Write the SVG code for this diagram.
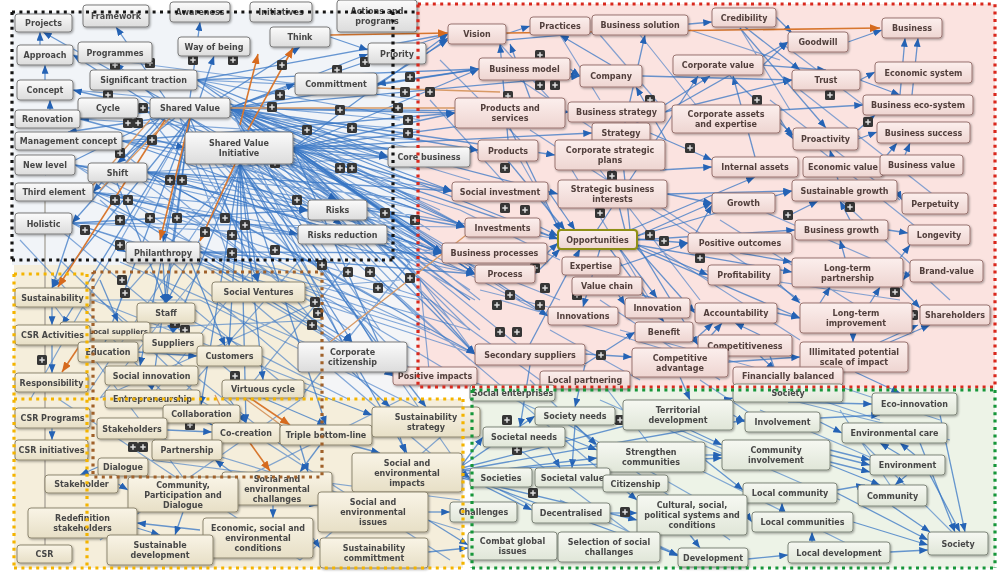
<svg xmlns="http://www.w3.org/2000/svg" xmlns:xlink="http://www.w3.org/1999/xlink" width="1000" height="573" viewBox="0 0 1000 573">
<defs>
<style>
.n text{font-family:"DejaVu Sans",Verdana,sans-serif;font-size:8px;font-weight:bold;text-anchor:middle;fill:#474747}
.n rect{rx:3px;ry:3px;stroke-width:1}
.n{filter:url(#sh)}
.tl rect{fill:url(#gTL);stroke:#7b7b7b}
.rd rect{fill:url(#gRD);stroke:#9a7571}
.rd text{fill:#52403d}
.cr rect{fill:url(#gCR);stroke:#8e8770}
.gr rect{fill:url(#gGR);stroke:#7f867a}
#opp rect{stroke:#8f8f12;stroke-width:2}
#n-localsuppliers text{font-size:7px;text-anchor:end}
#edges path{fill:none}
.b{stroke:#3775c4;stroke-opacity:.75;stroke-width:1.3;marker-end:url(#ab)}
.b0{stroke:#3775c4;stroke-opacity:.6;stroke-width:1.2}
.o{stroke:#d8772f;stroke-width:1.6;marker-end:url(#ao)}
.o0{stroke:#d89a66;stroke-width:1.3}
.g0{stroke:#a09a90;stroke-width:1.2}
.frame path{fill:none;stroke-width:3.2;stroke-dasharray:3 4.4}
.dk{stroke:#141414}
.rdf{stroke:#d9281d}
.yl{stroke:#f4b400}
.br{stroke:#a0612a;stroke-width:2.8}
.gn{stroke:#17963a}
</style>
<linearGradient id="gTL" x1="0" y1="0" x2="0" y2="1"><stop offset="0" stop-color="#fbfbfb"/><stop offset="1" stop-color="#dcdcdc"/></linearGradient>
<linearGradient id="gRD" x1="0" y1="0" x2="0" y2="1"><stop offset="0" stop-color="#fcefed"/><stop offset="1" stop-color="#eed5d1"/></linearGradient>
<linearGradient id="gCR" x1="0" y1="0" x2="0" y2="1"><stop offset="0" stop-color="#f9f4e6"/><stop offset="1" stop-color="#e7dfc6"/></linearGradient>
<linearGradient id="gGR" x1="0" y1="0" x2="0" y2="1"><stop offset="0" stop-color="#f6f8f2"/><stop offset="1" stop-color="#e0e6d8"/></linearGradient>
<filter id="sh" x="-10%" y="-20%" width="125%" height="150%"><feDropShadow dx="1" dy="1.2" stdDeviation="0.8" flood-color="#000" flood-opacity="0.35"/></filter>
<marker id="ab" viewBox="0 0 10 8" refX="10" refY="4" markerWidth="9" markerHeight="7" markerUnits="userSpaceOnUse" orient="auto"><path d="M0,0L10,4L0,8z" fill="#2563b5"/></marker>
<marker id="ao" viewBox="0 0 10 8" refX="10" refY="4" markerWidth="10" markerHeight="8" markerUnits="userSpaceOnUse" orient="auto"><path d="M0,0L10,4L0,8z" fill="#d66a1e"/></marker>
<symbol id="pl" viewBox="0 0 10 10"><rect width="10" height="10" rx="1.5" fill="#363636"/><path d="M5,2.3V7.7M2.3,5H7.7" stroke="#e0e0e0" stroke-width="1.5"/></symbol>
</defs>

<g id="background">
<rect width="1000" height="573" fill="#ffffff"/>
<rect x="12" y="12" width="406" height="253" fill="#f1f4f8"/>
<rect x="418" y="4" width="577" height="383" fill="#fbe3e0"/>
<rect x="472" y="387" width="523" height="181" fill="#edf3e7"/>
<rect x="14" y="265" width="308" height="134" fill="#f5eedb"/>
<rect x="322" y="265" width="96" height="134" fill="#f4f5f7"/>
<rect x="14" y="399" width="449" height="169" fill="#f5eedb"/>
</g>

<g id="edges">
<path class="g0" d="M45,200V545"/>
<path class="b0" d="M72,223L475,354M72,223L465,227M93,192L442,253M93,192L475,274M122,141L478,150M122,141L452,191M75,165L393,376M75,165L475,354M147,172L388,157M147,172L558,239M163,242L393,376M138,108L442,253M197,80L465,227M197,85L475,274M230,112L530,355M240,164L475,300M260,164L548,316M180,118L420,380M150,118L330,342M120,150L300,300M100,200L300,372M200,252L430,330M240,164L600,470M250,164L462,470M290,164L470,300M300,160L470,330M230,108L420,200M230,108L430,230M230,108L420,260M230,108L470,180M240,164L420,240M260,160L420,210M280,160L440,270M60,230L240,380M90,200L330,300M140,180L350,330M20,240L170,400M50,300L200,500M100,300L300,460M150,300L350,400M200,300L463,430M250,300L462,480M330,300L480,390M380,280L470,360M430,300L540,380M470,380L560,420M530,380L600,450M600,380L650,445M700,380L760,420M760,380L880,420M820,380L940,420M430,100L520,200M440,60L520,140M500,44L560,110M560,35L600,100M600,35L660,105M640,35L700,110M690,30L780,60M740,28L790,110M780,42L870,110M520,80L640,160M530,130L700,240M560,150L650,300M520,160L560,230M600,170L700,300M650,200L800,300M660,250L800,340M700,270L900,300M720,220L880,320M760,210L920,280M770,100L900,200M800,90L940,200M820,150L920,230M830,190L950,300M600,300L720,380M620,330L800,380M550,330L640,380M500,300L700,360M480,290L560,310M460,260L560,300M460,210L560,260M600,400L760,470M560,420L700,500M520,450L640,540M500,490L560,520M680,430L840,500M700,470L860,550M760,410L900,470M790,400L950,440M840,410L900,500M860,440L960,540M620,460L730,540M560,500L690,560"/>
<path class="b0" d="M230,108L420,150M230,110L420,170M230,112L420,190M230,114L440,210M230,116L430,250M232,118L410,262M235,118L400,290M235,118L380,330M235,118L360,380M240,120L470,300M240,120L480,330M245,118L520,300M293,152L420,160M293,155L470,260M293,158L460,210M293,160L420,280M293,160L450,320M147,172L420,230M147,172L430,260M147,172L380,300M93,192L400,220M93,192L430,300M72,223L400,240M72,223L420,330M200,252L420,300M200,252L470,330M367,210L460,260M367,210L480,300M387,234L470,290M387,234L475,354M75,165L420,200M75,165L440,250M122,141L400,180M122,141L420,210M80,119L420,140M73,90L400,120M73,55L420,100M138,108L420,130M197,80L420,90M197,80L420,120M150,112L390,240M160,118L360,260M250,148L420,320M270,164L380,262M230,164L330,262M215,164L300,262M200,164L260,262M180,118L230,262M93,300L322,390M150,272L300,398M200,272L100,398M250,272L150,398M322,300L100,398M60,400L300,560M100,420L460,530M150,460L460,500M200,400L450,560M300,400L100,540M400,400L200,500M460,420L300,560M240,164L120,300M240,164L90,390M190,118L30,400M300,260L180,398M350,262L240,398M410,262L300,398M420,280L430,380M270,290L400,280M100,330L322,320M60,260L200,398M120,262L322,350M30,300L200,300"/>
<path class="b" d="M230,108L368,54"/><path class="b" d="M230,108L448,34"/><path class="b" d="M230,108L479,69"/><path class="b" d="M230,108L455,113"/><path class="b" d="M230,108L388,157"/><path class="b" d="M230,108L478,150"/><path class="b" d="M230,108L452,191"/><path class="b" d="M230,108L465,227"/><path class="b" d="M230,108L442,253"/><path class="b" d="M230,108L475,274"/><path class="b" d="M230,108L558,239"/><path class="b" d="M230,108L558,194"/><path class="b" d="M230,108L555,155"/><path class="b" d="M230,108L568,112"/><path class="b" d="M230,108L580,76"/><path class="b" d="M230,108L295,84"/><path class="b" d="M230,108L393,376"/><path class="b" d="M230,108L475,354"/>
<path class="b" d="M293,148L448,34"/><path class="b" d="M293,148L479,69"/><path class="b" d="M293,148L455,113"/><path class="b" d="M293,148L388,157"/><path class="b" d="M293,148L478,150"/><path class="b" d="M293,148L452,191"/><path class="b" d="M293,148L465,227"/><path class="b" d="M293,148L442,253"/><path class="b" d="M293,148L475,274"/><path class="b" d="M293,148L558,239"/><path class="b" d="M293,148L548,316"/><path class="b" d="M293,148L475,354"/><path class="b" d="M293,148L393,376"/><path class="b" d="M293,148L568,112"/><path class="b" d="M293,148L592,133"/>
<path class="b" d="M240,164L352,342"/><path class="b" d="M240,164L426,407"/><path class="b" d="M240,164L407,453"/><path class="b" d="M240,164L326,425"/><path class="b" d="M240,164L263,380"/><path class="b" d="M240,164L258,282"/><path class="b" d="M240,164L229,346"/><path class="b" d="M240,164L166,303"/><path class="b" d="M240,164L173,333"/><path class="b" d="M240,164L246,423"/><path class="b" d="M240,164L201,405"/>
<path class="b" d="M190,118L166,303"/><path class="b" d="M190,118L140,366"/><path class="b" d="M190,118L52,288"/><path class="b" d="M190,118L163,242"/><path class="b" d="M190,118L337,200"/><path class="b" d="M190,118L342,225"/><path class="b" d="M190,118L258,282"/><path class="b" d="M190,118L152,390"/><path class="b" d="M190,118L105,342"/><path class="b" d="M190,118L62,325"/>
<path class="b" d="M160,98L43,32"/><path class="b" d="M165,98L116,27"/><path class="b" d="M190,98L200,22"/><path class="b" d="M150,104L73,55"/><path class="b" d="M155,98L115,63"/><path class="b" d="M150,108L73,90"/><path class="b" d="M150,112L80,119"/><path class="b" d="M160,118L68,132"/><path class="b" d="M160,118L45,175"/><path class="b" d="M160,118L93,192"/><path class="b" d="M165,118L72,223"/><path class="b" d="M175,118L117,163"/><path class="b" d="M200,98L214,56"/><path class="b" d="M220,98L300,47"/>
<path class="b" d="M40,45L40,32"/><path class="b" d="M45,80L45,65"/><path class="b" d="M50,110L50,100"/>
<path class="b" d="M197,80L448,34"/><path class="b" d="M197,80L479,69"/><path class="b" d="M197,80L388,157"/><path class="b" d="M197,80L442,253"/><path class="b" d="M138,108L465,227"/><path class="b" d="M122,141L442,253"/><path class="b" d="M122,141L455,113"/><path class="b" d="M147,172L452,191"/><path class="b" d="M147,172L475,274"/><path class="b" d="M147,172L475,354"/><path class="b" d="M75,165L308,210"/><path class="b" d="M93,192L298,234"/><path class="b" d="M93,192L393,376"/><path class="b" d="M72,223L126,252"/><path class="b" d="M72,223L308,210"/><path class="b" d="M80,119L185,148"/><path class="b" d="M117,183L166,303"/><path class="b" d="M72,228L52,288"/><path class="b" d="M163,263L166,303"/><path class="b" d="M200,252L352,342"/><path class="b" d="M200,252L475,274"/><path class="b" d="M200,252L442,253"/><path class="b" d="M367,210L465,227"/><path class="b" d="M387,234L442,253"/><path class="b" d="M377,84L448,40"/><path class="b" d="M426,54L448,38"/><path class="b" d="M479,69L377,84"/><path class="b" d="M330,37L368,50"/>
<path class="b" d="M506,34L530,26"/><path class="b" d="M570,69L580,76"/><path class="b" d="M611,65L560,35"/><path class="b" d="M612,180L645,35"/><path class="b" d="M597,230L698,76"/><path class="b" d="M610,140L710,76"/><path class="b" d="M755,157L733,76"/><path class="b" d="M763,65L788,42"/><path class="b" d="M776,17L792,33"/><path class="b" d="M848,42L882,30"/><path class="b" d="M860,80L875,72"/><path class="b" d="M900,95L905,38"/><path class="b" d="M912,95L918,38"/><path class="b" d="M780,119L793,139"/><path class="b" d="M858,139L877,132"/><path class="b" d="M883,160L897,143"/><path class="b" d="M905,155L910,143"/><path class="b" d="M642,76L792,80"/><path class="b" d="M665,112L792,80"/><path class="b" d="M665,112L788,42"/><path class="b" d="M760,65L826,70"/><path class="b" d="M745,27L800,70"/><path class="b" d="M740,28L826,128"/><path class="b" d="M780,110L863,105"/><path class="b" d="M858,130L875,115"/><path class="b" d="M860,80L900,95"/><path class="b" d="M730,76L793,135"/><path class="b" d="M506,40L712,22"/><path class="b" d="M508,140L500,44"/><path class="b" d="M530,98L510,44"/><path class="b" d="M666,140L636,87"/>
<path class="b" d="M540,227L558,236"/><path class="b" d="M547,253L558,243"/><path class="b" d="M535,274L560,249"/><path class="b" d="M510,128L560,231"/><path class="b" d="M508,161L565,230"/><path class="b" d="M548,191L575,230"/><path class="b" d="M530,344L580,249"/><path class="b" d="M637,239L688,243"/><path class="b" d="M637,236L712,203"/><path class="b" d="M630,230L755,177"/><path class="b" d="M625,230L610,170"/><path class="b" d="M630,230L621,143"/><path class="b" d="M637,245L708,275"/><path class="b" d="M637,248L695,313"/><path class="b" d="M620,249L657,298"/><path class="b" d="M600,249L583,307"/><path class="b" d="M610,249L664,322"/><path class="b" d="M637,245L792,272"/><path class="b" d="M637,236L792,191"/><path class="b" d="M637,240L795,230"/><path class="b" d="M637,248L800,318"/><path class="b" d="M637,244L698,345"/>
<path class="b" d="M690,243L712,205"/><path class="b" d="M790,215L818,201"/><path class="b" d="M897,191L902,200"/><path class="b" d="M888,230L908,233"/><path class="b" d="M910,271L903,280"/><path class="b" d="M740,253L792,262"/><path class="b" d="M780,285L800,303"/><path class="b" d="M900,287L920,308"/><path class="b" d="M880,342L918,325"/><path class="b" d="M890,342L930,325"/><path class="b" d="M853,333L853,342"/><path class="b" d="M760,356L775,370"/><path class="b" d="M692,342L713,323"/><path class="b" d="M700,348L722,323"/><path class="b" d="M760,335L735,323"/><path class="b" d="M850,220L840,201"/><path class="b" d="M845,258L840,240"/><path class="b" d="M900,258L910,245"/><path class="b" d="M820,303L830,287"/><path class="b" d="M870,303L880,287"/><path class="b" d="M838,180L830,150"/><path class="b" d="M660,170L712,167"/><path class="b" d="M667,194L712,203"/><path class="b" d="M667,194L792,191"/><path class="b" d="M650,133L712,160"/><path class="b" d="M642,295L695,310"/><path class="b" d="M620,266L688,243"/><path class="b" d="M607,277L625,305"/><path class="b" d="M585,364L635,332"/><path class="b" d="M585,354L632,357"/><path class="b" d="M728,362L800,357"/><path class="b" d="M777,313L800,318"/>
<path class="b" d="M788,402L872,404"/><path class="b" d="M820,422L842,433"/><path class="b" d="M820,418L880,415"/><path class="b" d="M830,450L870,460"/><path class="b" d="M830,455L870,465"/><path class="b" d="M830,462L870,472"/><path class="b" d="M900,455L880,443"/><path class="b" d="M915,455L900,443"/><path class="b" d="M837,490L865,485"/><path class="b" d="M830,465L880,485"/><path class="b" d="M907,475L895,485"/><path class="b" d="M837,493L928,540"/><path class="b" d="M853,522L928,545"/><path class="b" d="M890,552L928,550"/><path class="b" d="M892,506L930,532"/><path class="b" d="M920,443L955,532"/><path class="b" d="M940,415L965,532"/><path class="b" d="M930,475L960,532"/><path class="b" d="M782,512L782,503"/><path class="b" d="M812,542L812,532"/><path class="b" d="M705,455L722,455"/><path class="b" d="M733,415L745,422"/><path class="b" d="M705,460L743,490"/><path class="b" d="M747,515L752,522"/><path class="b" d="M565,437L597,450"/><path class="b" d="M575,425L597,445"/><path class="b" d="M548,447L560,468"/><path class="b" d="M575,425L572,468"/><path class="b" d="M610,478L637,500"/><path class="b" d="M610,513L637,513"/><path class="b" d="M462,472L470,478"/><path class="b" d="M462,475L532,510"/><path class="b" d="M462,478L637,520"/><path class="b" d="M462,476L678,555"/><path class="b" d="M462,474L597,458"/><path class="b" d="M462,471L722,458"/><path class="b" d="M462,470L745,420"/><path class="b" d="M462,468L733,398"/><path class="b" d="M462,466L535,416"/><path class="b" d="M462,465L483,437"/><path class="b" d="M428,512L450,512"/><path class="b" d="M428,520L468,545"/><path class="b" d="M428,552L468,548"/><path class="b" d="M660,547L678,556"/><path class="b" d="M748,559L788,555"/><path class="b" d="M690,430L722,445"/><path class="b" d="M690,535L700,548"/><path class="b" d="M680,377L690,400"/><path class="b" d="M585,365L575,407"/><path class="b" d="M530,365L520,427"/><path class="b" d="M855,372L900,393"/><path class="b" d="M770,356L780,384"/>
<path class="b" d="M100,280L118,322"/><path class="b" d="M190,260L225,346"/><path class="b" d="M52,307L52,325"/><path class="b" d="M52,345L52,373"/><path class="b" d="M52,428L52,440"/><path class="b" d="M200,530L137,523"/><path class="b" d="M183,512L175,535"/><path class="b" d="M230,400L246,423"/><path class="b" d="M390,422L372,433"/><path class="b" d="M300,445L308,472"/><path class="b" d="M273,505L273,518"/><path class="b" d="M320,445L300,472"/><path class="b" d="M350,445L380,453"/><path class="b" d="M400,437L405,453"/><path class="b" d="M240,478L215,460"/><path class="b" d="M167,430L212,432"/><path class="b" d="M200,415L212,425"/><path class="b" d="M263,398L326,425"/><path class="b" d="M304,389L372,415"/><path class="b" d="M352,372L390,407"/><path class="b" d="M120,460L120,475"/><path class="b" d="M98,467L80,475"/><path class="b" d="M118,484L128,490"/><path class="b" d="M137,528L160,535"/><path class="b" d="M238,495L318,505"/><path class="b" d="M313,538L320,548"/><path class="b" d="M170,323L173,333"/><path class="b" d="M138,352L197,356"/><path class="b" d="M150,385L152,390"/>
<path class="o" d="M506,33L880,28"/><path class="o" d="M330,35L448,33"/><path class="o" d="M248,130L293,48"/><path class="o" d="M240,125L258,54"/><path class="o" d="M165,120L58,287"/><path class="o" d="M190,118L160,240"/><path class="o" d="M235,164L200,241"/><path class="o" d="M232,386L290,425"/><path class="o" d="M250,443L270,471"/><path class="o" d="M80,345L62,372"/>
<path class="o0" d="M150,120L80,200M170,118L100,190M230,108L455,108M330,342L470,232M377,88L500,92M240,395L285,428M215,395L232,430"/>
</g>

<g id="icons">
<use href="#pl" x="110" y="60" width="10" height="10"/><use href="#pl" x="145" y="58" width="10" height="10"/><use href="#pl" x="188" y="55" width="10" height="10"/><use href="#pl" x="228" y="55" width="10" height="10"/><use href="#pl" x="103" y="90" width="10" height="10"/><use href="#pl" x="138" y="103" width="10" height="10"/><use href="#pl" x="123" y="118" width="10" height="10"/><use href="#pl" x="133" y="118" width="10" height="10"/><use href="#pl" x="147" y="135" width="10" height="10"/><use href="#pl" x="115" y="148" width="10" height="10"/><use href="#pl" x="165" y="175" width="10" height="10"/><use href="#pl" x="177" y="175" width="10" height="10"/><use href="#pl" x="277" y="60" width="10" height="10"/><use href="#pl" x="332" y="65" width="10" height="10"/><use href="#pl" x="360" y="57" width="10" height="10"/><use href="#pl" x="275" y="90" width="10" height="10"/><use href="#pl" x="267" y="102" width="10" height="10"/><use href="#pl" x="335" y="105" width="10" height="10"/><use href="#pl" x="347" y="123" width="10" height="10"/><use href="#pl" x="302" y="125" width="10" height="10"/><use href="#pl" x="405" y="72" width="10" height="10"/><use href="#pl" x="400" y="87" width="10" height="10"/><use href="#pl" x="425" y="87" width="10" height="10"/><use href="#pl" x="393" y="103" width="10" height="10"/><use href="#pl" x="403" y="115" width="10" height="10"/><use href="#pl" x="403" y="128" width="10" height="10"/><use href="#pl" x="270" y="158" width="10" height="10"/><use href="#pl" x="335" y="163" width="10" height="10"/><use href="#pl" x="347" y="163" width="10" height="10"/>
<use href="#pl" x="110" y="195" width="10" height="10"/><use href="#pl" x="123" y="195" width="10" height="10"/><use href="#pl" x="115" y="215" width="10" height="10"/><use href="#pl" x="80" y="225" width="10" height="10"/><use href="#pl" x="172" y="213" width="10" height="10"/><use href="#pl" x="145" y="213" width="10" height="10"/><use href="#pl" x="220" y="213" width="10" height="10"/><use href="#pl" x="200" y="227" width="10" height="10"/><use href="#pl" x="227" y="230" width="10" height="10"/><use href="#pl" x="115" y="240" width="10" height="10"/><use href="#pl" x="227" y="248" width="10" height="10"/><use href="#pl" x="292" y="195" width="10" height="10"/><use href="#pl" x="240" y="220" width="10" height="10"/><use href="#pl" x="270" y="245" width="10" height="10"/><use href="#pl" x="380" y="208" width="10" height="10"/><use href="#pl" x="410" y="215" width="10" height="10"/><use href="#pl" x="317" y="260" width="10" height="10"/><use href="#pl" x="343" y="267" width="10" height="10"/><use href="#pl" x="365" y="267" width="10" height="10"/><use href="#pl" x="405" y="273" width="10" height="10"/><use href="#pl" x="373" y="283" width="10" height="10"/><use href="#pl" x="310" y="297" width="10" height="10"/><use href="#pl" x="313" y="308" width="10" height="10"/><use href="#pl" x="307" y="320" width="10" height="10"/><use href="#pl" x="180" y="325" width="10" height="10"/><use href="#pl" x="170" y="318" width="10" height="10"/><use href="#pl" x="37" y="355" width="10" height="10"/><use href="#pl" x="117" y="275" width="10" height="10"/>
<use href="#pl" x="535" y="50" width="10" height="10"/><use href="#pl" x="535" y="80" width="10" height="10"/><use href="#pl" x="550" y="80" width="10" height="10"/><use href="#pl" x="503" y="91" width="10" height="10"/><use href="#pl" x="645" y="95" width="10" height="10"/><use href="#pl" x="685" y="143" width="10" height="10"/><use href="#pl" x="607" y="171" width="10" height="10"/><use href="#pl" x="500" y="163" width="10" height="10"/><use href="#pl" x="825" y="90" width="10" height="10"/><use href="#pl" x="752" y="95" width="10" height="10"/><use href="#pl" x="863" y="117" width="10" height="10"/><use href="#pl" x="783" y="210" width="10" height="10"/><use href="#pl" x="845" y="202" width="10" height="10"/><use href="#pl" x="890" y="287" width="10" height="10"/><use href="#pl" x="908" y="310" width="10" height="10"/><use href="#pl" x="500" y="203" width="10" height="10"/><use href="#pl" x="520" y="205" width="10" height="10"/><use href="#pl" x="595" y="208" width="10" height="10"/><use href="#pl" x="645" y="230" width="10" height="10"/><use href="#pl" x="659" y="236" width="10" height="10"/><use href="#pl" x="695" y="253" width="10" height="10"/><use href="#pl" x="530" y="263" width="10" height="10"/><use href="#pl" x="540" y="283" width="10" height="10"/><use href="#pl" x="505" y="290" width="10" height="10"/><use href="#pl" x="492" y="300" width="10" height="10"/><use href="#pl" x="535" y="300" width="10" height="10"/><use href="#pl" x="572" y="290" width="10" height="10"/><use href="#pl" x="495" y="327" width="10" height="10"/><use href="#pl" x="512" y="327" width="10" height="10"/><use href="#pl" x="596" y="350" width="10" height="10"/>
<use href="#pl" x="502" y="415" width="10" height="10"/><use href="#pl" x="512" y="445" width="10" height="10"/><use href="#pl" x="615" y="415" width="10" height="10"/><use href="#pl" x="528" y="488" width="10" height="10"/><use href="#pl" x="620" y="507" width="10" height="10"/><use href="#pl" x="365" y="477" width="10" height="10"/><use href="#pl" x="128" y="442" width="10" height="10"/><use href="#pl" x="138" y="442" width="10" height="10"/><use href="#pl" x="300" y="530" width="10" height="10"/><use href="#pl" x="230" y="371" width="10" height="10"/><use href="#pl" x="185" y="420" width="10" height="10"/><use href="#pl" x="120" y="288" width="10" height="10"/>
</g>

<g id="nodes">
<g id="n-projects" class="n tl"><rect x="15" y="14" width="57" height="18"/><text x="43.5" y="26">Projects</text></g>
<g id="n-framework" class="n tl"><rect x="83" y="5" width="66" height="22"/><text x="116" y="19">Framework</text></g>
<g id="n-awareness" class="n tl"><rect x="170" y="2" width="60" height="20"/><text x="200" y="15">Awareness</text></g>
<g id="n-initiatives" class="n tl"><rect x="250" y="2" width="62" height="20"/><text x="281" y="15">Initiatives</text></g>
<g id="n-actions" class="n tl"><rect x="337" y="0" width="80" height="32"/><text x="377" y="14">Actions and</text><text x="377" y="24">programs</text></g>
<g id="n-wayofbeing" class="n tl"><rect x="178" y="37" width="72" height="19"/><text x="214" y="49.5">Way of being</text></g>
<g id="n-think" class="n tl"><rect x="270" y="27" width="60" height="20"/><text x="300" y="40">Think</text></g>
<g id="n-priority" class="n tl"><rect x="368" y="43" width="58" height="21"/><text x="397" y="56.5">Priority</text></g>
<g id="n-approach" class="n tl"><rect x="17" y="45" width="56" height="20"/><text x="45" y="58">Approach</text></g>
<g id="n-programmes" class="n tl"><rect x="78" y="42" width="74" height="21"/><text x="115" y="55.5">Programmes</text></g>
<g id="n-sigtraction" class="n tl"><rect x="90" y="70" width="107" height="20"/><text x="143.5" y="83">Significant traction</text></g>
<g id="n-committment" class="n tl"><rect x="295" y="73" width="82" height="22"/><text x="336" y="87">Committment</text></g>
<g id="n-concept" class="n tl"><rect x="17" y="80" width="56" height="20"/><text x="45" y="93">Concept</text></g>
<g id="n-cycle" class="n tl"><rect x="78" y="98" width="60" height="20"/><text x="108" y="111">Cycle</text></g>
<g id="n-sharedvalue" class="n tl"><rect x="150" y="98" width="80" height="20"/><text x="190" y="111">Shared Value</text></g>
<g id="n-renovation" class="n tl"><rect x="15" y="110" width="65" height="18"/><text x="47.5" y="122">Renovation</text></g>
<g id="n-mgmt" class="n tl"><rect x="15" y="132" width="107" height="18"/><text x="68.5" y="144">Management concept</text></g>
<g id="n-svi" class="n tl"><rect x="185" y="132" width="108" height="32"/><text x="239" y="146">Shared Value</text><text x="239" y="156">Initiative</text></g>
<g id="n-newlevel" class="n tl"><rect x="15" y="155" width="60" height="20"/><text x="45" y="168">New level</text></g>
<g id="n-shift" class="n tl"><rect x="88" y="163" width="59" height="19"/><text x="117.5" y="175.5">Shift</text></g>
<g id="n-third" class="n tl"><rect x="15" y="183" width="78" height="18"/><text x="54" y="195">Third element</text></g>
<g id="n-holistic" class="n tl"><rect x="15" y="213" width="57" height="21"/><text x="43.5" y="226.5">Holistic</text></g>
<g id="n-philanthropy" class="n tl"><rect x="126" y="242" width="74" height="21"/><text x="163" y="255.5">Philanthropy</text></g>
<g id="n-risks" class="n tl"><rect x="308" y="200" width="59" height="20"/><text x="337.5" y="213">Risks</text></g>
<g id="n-risksred" class="n tl"><rect x="298" y="225" width="89" height="19"/><text x="342.5" y="237.5">Risks reduction</text></g>
<g id="n-corebusiness" class="n tl"><rect x="388" y="147" width="82" height="20"/><text x="429" y="160">Core business</text></g>

<g id="n-vision" class="n rd"><rect x="448" y="24" width="58" height="20"/><text x="477" y="37">Vision</text></g>
<g id="n-practices" class="n rd"><rect x="530" y="17" width="60" height="18"/><text x="560" y="29">Practices</text></g>
<g id="n-bsolution" class="n rd"><rect x="592" y="15" width="96" height="20"/><text x="640" y="28">Business solution</text></g>
<g id="n-credibility" class="n rd"><rect x="712" y="8" width="64" height="19"/><text x="744" y="20.5">Credibility</text></g>
<g id="n-business" class="n rd"><rect x="882" y="18" width="60" height="20"/><text x="912" y="31">Business</text></g>
<g id="n-goodwill" class="n rd"><rect x="788" y="32" width="60" height="20"/><text x="818" y="45">Goodwill</text></g>
<g id="n-bmodel" class="n rd"><rect x="479" y="58" width="91" height="22"/><text x="524.5" y="72">Business model</text></g>
<g id="n-company" class="n rd"><rect x="580" y="65" width="62" height="22"/><text x="611" y="79">Company</text></g>
<g id="n-corpvalue" class="n rd"><rect x="673" y="55" width="90" height="20"/><text x="718" y="68">Corporate value</text></g>
<g id="n-trust" class="n rd"><rect x="792" y="70" width="68" height="20"/><text x="826" y="83">Trust</text></g>
<g id="n-econsys" class="n rd"><rect x="875" y="62" width="97" height="21"/><text x="923.5" y="75.5">Economic system</text></g>
<g id="n-prodserv" class="n rd"><rect x="455" y="98" width="110" height="30"/><text x="510" y="111">Products and</text><text x="510" y="121">services</text></g>
<g id="n-bstrategy" class="n rd"><rect x="568" y="102" width="97" height="20"/><text x="616.5" y="115">Business strategy</text></g>
<g id="n-corpassets" class="n rd"><rect x="672" y="105" width="108" height="28"/><text x="726" y="117">Corporate assets</text><text x="726" y="127">and expertise</text></g>
<g id="n-becosys" class="n rd"><rect x="863" y="95" width="110" height="20"/><text x="918" y="108">Business eco-system</text></g>
<g id="n-strategy" class="n rd"><rect x="592" y="123" width="58" height="20"/><text x="621" y="136">Strategy</text></g>
<g id="n-products" class="n rd"><rect x="478" y="140" width="60" height="21"/><text x="508" y="153.5">Products</text></g>
<g id="n-csplans" class="n rd"><rect x="555" y="140" width="110" height="30"/><text x="610" y="153">Corporate strategic</text><text x="610" y="163">plans</text></g>
<g id="n-proactivity" class="n rd"><rect x="793" y="128" width="65" height="22"/><text x="825.5" y="142">Proactivity</text></g>
<g id="n-bsuccess" class="n rd"><rect x="877" y="122" width="93" height="21"/><text x="923.5" y="135.5">Business success</text></g>
<g id="n-intassets" class="n rd"><rect x="712" y="157" width="86" height="20"/><text x="755" y="170">Internal assets</text></g>
<g id="n-econvalue" class="n rd"><rect x="803" y="157" width="80" height="20"/><text x="843" y="170">Economic value</text></g>
<g id="n-bvalue" class="n rd"><rect x="880" y="155" width="83" height="20"/><text x="921.5" y="168">Business value</text></g>
<g id="n-socinv" class="n rd"><rect x="452" y="182" width="96" height="19"/><text x="500" y="194.5">Social investment</text></g>
<g id="n-sbi" class="n rd"><rect x="558" y="180" width="109" height="28"/><text x="612.5" y="192">Strategic business</text><text x="612.5" y="202">interests</text></g>
<g id="n-susgrowth" class="n rd"><rect x="792" y="180" width="105" height="21"/><text x="844.5" y="193.5">Sustainable growth</text></g>
<g id="n-growth" class="n rd"><rect x="712" y="193" width="63" height="20"/><text x="743.5" y="206">Growth</text></g>
<g id="n-perpetuity" class="n rd"><rect x="902" y="193" width="66" height="21"/><text x="935" y="206.5">Perpetuity</text></g>
<g id="n-investments" class="n rd"><rect x="465" y="218" width="75" height="19"/><text x="502.5" y="230.5">Investments</text></g>
<g id="n-bgrowth" class="n rd"><rect x="795" y="220" width="93" height="20"/><text x="841.5" y="233">Business growth</text></g>
<g id="n-longevity" class="n rd"><rect x="908" y="225" width="62" height="20"/><text x="939" y="238">Longevity</text></g>
<g id="n-posout" class="n rd"><rect x="688" y="233" width="104" height="20"/><text x="740" y="246">Positive outcomes</text></g>
<g id="n-bprocesses" class="n rd"><rect x="442" y="243" width="105" height="20"/><text x="494.5" y="256">Business processes</text></g>
<g id="opp" class="n rd"><rect x="558" y="230" width="79" height="19"/><text x="597.5" y="242.5">Opportunities</text></g>
<g id="n-expertise" class="n rd"><rect x="562" y="257" width="58" height="18"/><text x="591" y="269">Expertise</text></g>
<g id="n-process" class="n rd"><rect x="475" y="265" width="60" height="18"/><text x="505" y="277">Process</text></g>
<g id="n-valuechain" class="n rd"><rect x="572" y="277" width="70" height="18"/><text x="607" y="289">Value chain</text></g>
<g id="n-profitability" class="n rd"><rect x="708" y="265" width="72" height="20"/><text x="744" y="278">Profitability</text></g>
<g id="n-ltpartner" class="n rd"><rect x="792" y="258" width="111" height="29"/><text x="847.5" y="270.5">Long-term</text><text x="847.5" y="280.5">partnership</text></g>
<g id="n-brandvalue" class="n rd"><rect x="910" y="260" width="73" height="22"/><text x="946.5" y="274">Brand-value</text></g>
<g id="n-innovation" class="n rd"><rect x="625" y="298" width="65" height="20"/><text x="657.5" y="311">Innovation</text></g>
<g id="n-innovations" class="n rd"><rect x="548" y="307" width="70" height="18"/><text x="583" y="319">Innovations</text></g>
<g id="n-accountability" class="n rd"><rect x="695" y="303" width="82" height="20"/><text x="736" y="316">Accountability</text></g>
<g id="n-ltimprove" class="n rd"><rect x="800" y="303" width="112" height="30"/><text x="856" y="316">Long-term</text><text x="856" y="326">improvement</text></g>
<g id="n-shareholders" class="n rd"><rect x="920" y="305" width="70" height="20"/><text x="955" y="318">Shareholders</text></g>
<g id="n-benefit" class="n rd"><rect x="635" y="322" width="58" height="20"/><text x="664" y="335">Benefit</text></g>
<g id="n-competitiveness" class="n rd"><rect x="698" y="335" width="94" height="21"/><text x="745" y="348.5">Competitiveness</text></g>
<g id="n-secsuppliers" class="n rd"><rect x="475" y="344" width="110" height="21"/><text x="530" y="357.5">Secondary suppliers</text></g>
<g id="n-compadv" class="n rd"><rect x="632" y="348" width="96" height="29"/><text x="680" y="360.5">Competitive</text><text x="680" y="370.5">advantage</text></g>
<g id="n-illimitated" class="n rd"><rect x="800" y="342" width="108" height="30"/><text x="854" y="355">Illimitated potential</text><text x="854" y="365">scale of impact</text></g>
<g id="n-posimpacts" class="n rd"><rect x="393" y="367" width="84" height="18"/><text x="435" y="379">Positive impacts</text></g>
<g id="n-localpartnering" class="n rd"><rect x="540" y="371" width="90" height="18"/><text x="585" y="383">Local partnering</text></g>
<g id="n-finbalanced" class="n rd"><rect x="733" y="367" width="110" height="18"/><text x="788" y="379">Financially balanced</text></g>

<g id="n-sustainability" class="n cr"><rect x="15" y="288" width="75" height="19"/><text x="52.5" y="300.5">Sustainability</text></g>
<g id="n-socventures" class="n cr"><rect x="212" y="282" width="93" height="20"/><text x="258.5" y="295">Social Ventures</text></g>
<g id="n-staff" class="n cr"><rect x="137" y="303" width="58" height="20"/><text x="166" y="316">Staff</text></g>
<g id="n-localsuppliers" class="n cr"><rect x="60" y="322" width="90" height="18"/><text x="148" y="334">Local suppliers</text></g>
<g id="n-csractivities" class="n cr"><rect x="15" y="325" width="75" height="20"/><text x="52.5" y="338">CSR Activities</text></g>
<g id="n-education" class="n cr"><rect x="78" y="342" width="60" height="20"/><text x="108" y="355">Education</text></g>
<g id="n-suppliers" class="n cr"><rect x="143" y="333" width="60" height="20"/><text x="173" y="346">Suppliers</text></g>
<g id="n-customers" class="n cr"><rect x="197" y="346" width="65" height="20"/><text x="229.5" y="359">Customers</text></g>
<g id="n-corpcitizen" class="n tl"><rect x="298" y="342" width="109" height="30"/><text x="352.5" y="355">Corporate</text><text x="352.5" y="365">citizenship</text></g>
<g id="n-responsibility" class="n cr"><rect x="15" y="373" width="73" height="19"/><text x="51.5" y="385.5">Responsibility</text></g>
<g id="n-socinnov" class="n cr"><rect x="105" y="366" width="93" height="19"/><text x="151.5" y="378.5">Social innovation</text></g>
<g id="n-virtuous" class="n cr"><rect x="222" y="380" width="82" height="18"/><text x="263" y="392">Virtuous cycle</text></g>
<g id="n-entrepreneurship" class="n cr"><rect x="105" y="390" width="95" height="18"/><text x="152.5" y="402">Entrepreneurship</text></g>
<g id="n-collaboration" class="n cr"><rect x="163" y="405" width="77" height="18"/><text x="201.5" y="417">Collaboration</text></g>
<g id="n-csrprograms" class="n cr"><rect x="15" y="408" width="75" height="20"/><text x="52.5" y="421">CSR Programs</text></g>
<g id="n-stakeholders" class="n cr"><rect x="97" y="418" width="70" height="21"/><text x="132" y="431.5">Stakeholders</text></g>
<g id="n-cocreation" class="n cr"><rect x="212" y="423" width="68" height="20"/><text x="246" y="436">Co-creation</text></g>
<g id="n-triple" class="n cr"><rect x="280" y="425" width="92" height="20"/><text x="326" y="438">Triple bottom-line</text></g>
<g id="n-susstrategy" class="n cr"><rect x="372" y="407" width="108" height="30"/><text x="426" y="420">Sustainability</text><text x="426" y="430">strategy</text></g>
<g id="n-csrinit" class="n cr"><rect x="15" y="440" width="73" height="20"/><text x="51.5" y="453">CSR initiatives</text></g>
<g id="n-partnership" class="n cr"><rect x="152" y="440" width="70" height="20"/><text x="187" y="453">Partnership</text></g>
<g id="n-dialogue" class="n cr"><rect x="98" y="458" width="50" height="18"/><text x="123" y="470">Dialogue</text></g>
<g id="n-seimpacts" class="n cr"><rect x="352" y="453" width="110" height="39"/><text x="407" y="465.5">Social and</text><text x="407" y="475.5">environmental</text><text x="407" y="485.5">impacts</text></g>
<g id="n-sechall" class="n cr"><rect x="222" y="472" width="110" height="33"/><text x="277" y="481.5">Social and</text><text x="277" y="491.5">environmental</text><text x="277" y="501.5">challanges</text></g>
<g id="n-stakeholder" class="n cr"><rect x="45" y="475" width="73" height="18"/><text x="81.5" y="487">Stakeholder</text></g>
<g id="n-community1" class="n cr"><rect x="128" y="477" width="110" height="35"/><text x="183" y="487.5">Community,</text><text x="183" y="497.5">Participation and</text><text x="183" y="507.5">Dialogue</text></g>
<g id="n-seissues" class="n cr"><rect x="318" y="492" width="110" height="40"/><text x="373" y="505">Social and</text><text x="373" y="515">environmental</text><text x="373" y="525">issues</text></g>
<g id="n-redefinition" class="n cr"><rect x="28" y="508" width="109" height="30"/><text x="82.5" y="521">Redefinition</text><text x="82.5" y="531">stakeholders</text></g>
<g id="n-econsocenv" class="n cr"><rect x="203" y="518" width="110" height="40"/><text x="258" y="531">Economic, social and</text><text x="258" y="541">environmental</text><text x="258" y="551">conditions</text></g>
<g id="n-csr" class="n cr"><rect x="17" y="545" width="55" height="18"/><text x="44.5" y="557">CSR</text></g>
<g id="n-susdev" class="n cr"><rect x="107" y="535" width="106" height="30"/><text x="160" y="548">Sustainable</text><text x="160" y="558">development</text></g>
<g id="n-suscommit" class="n cr"><rect x="320" y="538" width="108" height="30"/><text x="374" y="551">Sustainability</text><text x="374" y="561">committment</text></g>

<g id="n-socent" class="n gr"><rect x="470" y="385" width="85" height="16"/><text x="512.5" y="396">Social enterprises</text></g>
<g id="n-society1" class="n gr"><rect x="733" y="384" width="110" height="18"/><text x="788" y="396">Society</text></g>
<g id="n-societyneeds" class="n gr"><rect x="535" y="407" width="80" height="18"/><text x="575" y="419">Society needs</text></g>
<g id="n-territorial" class="n gr"><rect x="623" y="400" width="110" height="30"/><text x="678" y="413">Territorial</text><text x="678" y="423">development</text></g>
<g id="n-ecoinnov" class="n gr"><rect x="872" y="393" width="85" height="22"/><text x="914.5" y="407">Eco-innovation</text></g>
<g id="n-involvement" class="n gr"><rect x="745" y="412" width="75" height="20"/><text x="782.5" y="425">Involvement</text></g>
<g id="n-envcare" class="n gr"><rect x="842" y="423" width="105" height="20"/><text x="894.5" y="436">Environmental care</text></g>
<g id="n-societalneeds" class="n gr"><rect x="483" y="427" width="82" height="20"/><text x="524" y="440">Societal needs</text></g>
<g id="n-strengthen" class="n gr"><rect x="597" y="442" width="108" height="30"/><text x="651" y="455">Strengthen</text><text x="651" y="465">communities</text></g>
<g id="n-comminv" class="n gr"><rect x="722" y="440" width="108" height="30"/><text x="776" y="453">Community</text><text x="776" y="463">involvement</text></g>
<g id="n-environment" class="n gr"><rect x="870" y="455" width="75" height="20"/><text x="907.5" y="468">Environment</text></g>
<g id="n-societies" class="n gr"><rect x="470" y="468" width="62" height="19"/><text x="501" y="480.5">Societies</text></g>
<g id="n-societalvalue" class="n gr"><rect x="535" y="468" width="75" height="19"/><text x="572.5" y="480.5">Societal value</text></g>
<g id="n-citizenship" class="n gr"><rect x="603" y="475" width="65" height="17"/><text x="635.5" y="486.5">Citizenship</text></g>
<g id="n-localcommunity" class="n gr"><rect x="743" y="483" width="94" height="20"/><text x="790" y="496">Local community</text></g>
<g id="n-community" class="n gr"><rect x="858" y="485" width="69" height="21"/><text x="892.5" y="498.5">Community</text></g>
<g id="n-challenges" class="n gr"><rect x="450" y="502" width="67" height="20"/><text x="483.5" y="515">Challenges</text></g>
<g id="n-decentralised" class="n gr"><rect x="532" y="503" width="78" height="20"/><text x="571" y="516">Decentralised</text></g>
<g id="n-cultural" class="n gr"><rect x="637" y="495" width="110" height="40"/><text x="692" y="508">Cultural, social,</text><text x="692" y="518">political systems and</text><text x="692" y="528">conditions</text></g>
<g id="n-localcommunities" class="n gr"><rect x="752" y="512" width="101" height="20"/><text x="802.5" y="525">Local communities</text></g>
<g id="n-combat" class="n gr"><rect x="468" y="532" width="89" height="28"/><text x="512.5" y="544">Combat global</text><text x="512.5" y="554">issues</text></g>
<g id="n-selection" class="n gr"><rect x="558" y="532" width="102" height="30"/><text x="609" y="545">Selection of social</text><text x="609" y="555">challanges</text></g>
<g id="n-development" class="n gr"><rect x="678" y="548" width="70" height="19"/><text x="713" y="560.5">Development</text></g>
<g id="n-localdev" class="n gr"><rect x="788" y="542" width="102" height="21"/><text x="839" y="555.5">Local development</text></g>
<g id="n-society2" class="n gr"><rect x="928" y="532" width="60" height="23"/><text x="958" y="546.5">Society</text></g>
</g>

<g id="frames" class="frame">
<path class="dk" d="M12,12H418M12,12V260M12,260H393M393,12V262"/>
<path class="rdf" d="M418,4H995V387H418V4"/>
<path class="yl" d="M14,274H87M14,274V568M87,274V568M14,399H463M463,399V568M14,568H463"/>
<path class="br" d="M93,272H322V477H93V272"/>
<path class="gn" d="M472,390H995M472,390V568M472,568H995M995,390V568"/>
</g>
</svg>
